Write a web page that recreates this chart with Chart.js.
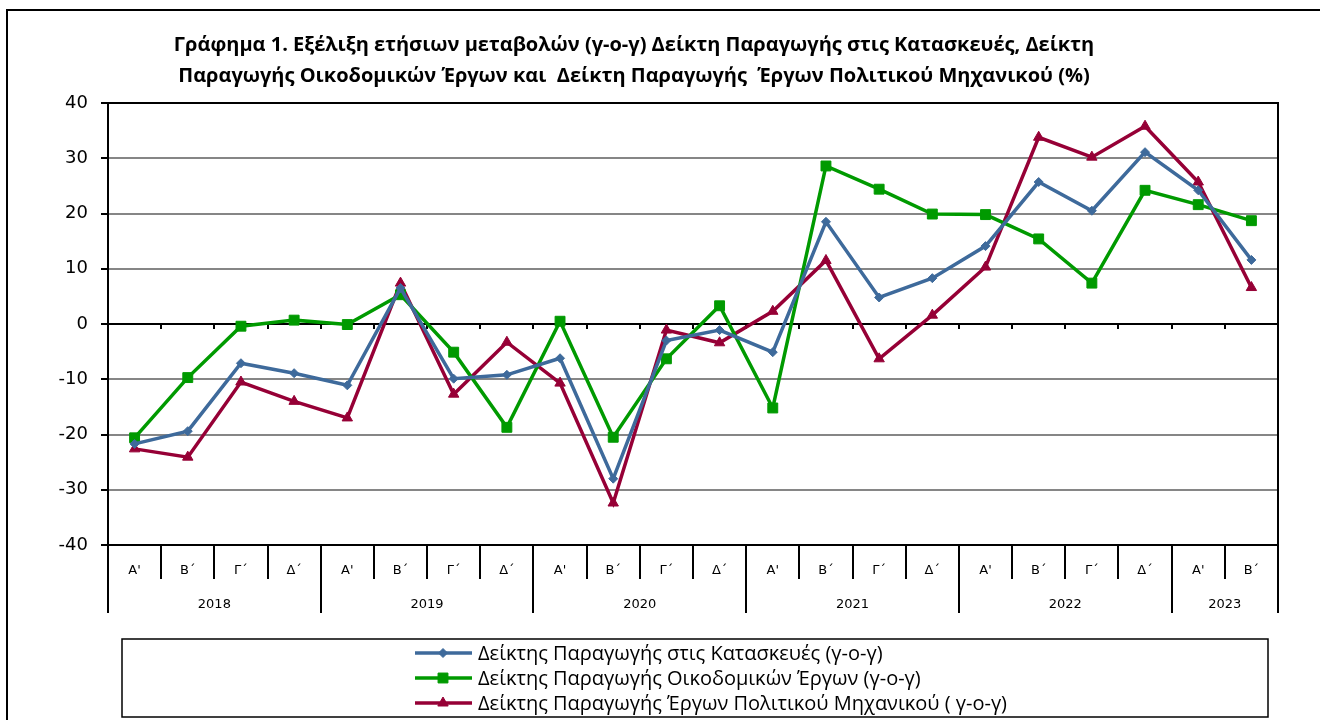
<!DOCTYPE html>
<html>
<head>
<meta charset="utf-8">
<script src="https://cdn.jsdelivr.net/npm/chart.js@4"></script>
<style>
  body { margin: 0; background: #fff; }
  canvas { display: block; }
</style>
</head>
<body>
<canvas id="chart" width="1320" height="720"></canvas>
<script>
// quarters and years of the category axis
const quarters = ["Α'", "Β΄", "Γ΄", "Δ΄", "Α'", "Β΄", "Γ΄", "Δ΄", "Α'", "Β΄", "Γ΄", "Δ΄",
                  "Α'", "Β΄", "Γ΄", "Δ΄", "Α'", "Β΄", "Γ΄", "Δ΄", "Α'", "Β΄"];
const years = ['2018', '2019', '2020', '2021', '2022', '2023'];
const quartersPerYear = [4, 4, 4, 4, 4, 2];
const yTicks = [-40, -30, -20, -10, 0, 10, 20, 30, 40];

// y-o-y changes (%)
const construction = [-21.7, -19.4, -7.1, -8.9, -11.1, 6.5, -9.9, -9.2, -6.2, -28.0, -3.0,
                      -1.1, -5.1, 18.5, 4.8, 8.3, 14.1, 25.7, 20.5, 31.1, 24.2, 11.6];
const buildings = [-20.6, -9.7, -0.4, 0.7, -0.1, 5.3, -5.1, -18.7, 0.5, -20.5, -6.3,
                   3.3, -15.2, 28.6, 24.4, 19.9, 19.8, 15.4, 7.4, 24.2, 21.6, 18.7];
const civil = [-22.6, -24.1, -10.5, -14.0, -17.0, 7.4, -12.7, -3.3, -10.7, -32.4, -1.1,
               -3.4, 2.3, 11.5, -6.3, 1.6, 10.3, 33.8, 30.2, 35.8, 25.7, 6.6];

const seriesNames = [
  'Δείκτης Παραγωγής στις Κατασκευές (γ-ο-γ)',
  'Δείκτης Παραγωγής Οικοδομικών Έργων (γ-ο-γ)',
  'Δείκτης Παραγωγής Έργων Πολιτικού Μηχανικού ( γ-ο-γ)'
];
const titleLines = [
  'Γράφημα 1. Εξέλιξη ετήσιων μεταβολών (γ-ο-γ) Δείκτη Παραγωγής στις Κατασκευές, Δείκτη',
  'Παραγωγής Οικοδομικών Έργων και  Δείκτη Παραγωγής  Έργων Πολιτικού Μηχανικού (%)'
];

const BLUE = '#3E6A9B';
const GREEN = '#009A00';
const RED = '#960036';

// frame, title, zero line, two-level category table and legend box
const decorations = {
  id: 'decorations',
  beforeDatasetsDraw(chart) {
    const ctx = chart.ctx;
    const area = chart.chartArea;
    const x = chart.scales.x;
    const y = chart.scales.y;
    ctx.save();
    // zero line with small ticks
    const yz = Math.round(y.getPixelForValue(0));
    ctx.strokeStyle = '#000';
    ctx.lineWidth = 2;
    ctx.beginPath();
    ctx.moveTo(area.left, yz);
    ctx.lineTo(area.right, yz);
    for (let k = 1; k < quarters.length; k++) {
      const xb = Math.round(x.getPixelForValue(k - 0.5));
      ctx.moveTo(xb, yz);
      ctx.lineTo(xb, yz + 5);
    }
    ctx.stroke();
    ctx.restore();
  },
  afterDraw(chart) {
    const ctx = chart.ctx;
    const area = chart.chartArea;
    const x = chart.scales.x;
    ctx.save();

    // outer frame (cropped)
    ctx.strokeStyle = '#000';
    ctx.lineWidth = 2;
    ctx.beginPath();
    ctx.moveTo(7, 730);
    ctx.lineTo(7, 10);
    ctx.lineTo(1325, 10);
    ctx.stroke();

    // plot border
    ctx.strokeRect(area.left, Math.round(area.top), area.right - area.left, Math.round(area.bottom - area.top));

    // title
    ctx.fillStyle = '#000';
    ctx.font = 'bold 20px "Liberation Sans Narrow", "Open Sans"';
    ctx.textAlign = 'center';
    ctx.textBaseline = 'middle';
    ctx.fillText(titleLines[0], 634, 45, 943);
    ctx.fillText(titleLines[1], 634, 76, 928);

    // category table below the plot
    const y0 = Math.round(area.bottom);
    ctx.lineWidth = 2;
    ctx.beginPath();
    let yearStarts = [0];
    quartersPerYear.forEach(n => yearStarts.push(yearStarts[yearStarts.length - 1] + n));
    for (let k = 0; k <= quarters.length; k++) {
      const xb = Math.round(x.getPixelForValue(k - 0.5));
      const isYear = yearStarts.includes(k);
      ctx.moveTo(xb, y0);
      ctx.lineTo(xb, y0 + (isYear ? 68 : 34));
    }
    ctx.stroke();
    ctx.font = '13px "DejaVu Sans"';
    quarters.forEach((q, i) => {
      ctx.fillText(q, x.getPixelForValue(i), y0 + 26);
    });
    years.forEach((yr, j) => {
      const a = x.getPixelForValue(yearStarts[j] - 0.5);
      const b = x.getPixelForValue(yearStarts[j + 1] - 0.5);
      ctx.fillText(yr, (a + b) / 2, y0 + 60);
    });

    // legend
    ctx.lineWidth = 1.5;
    ctx.strokeRect(122, 639, 1146, 78);
    ctx.textAlign = 'left';
    ctx.font = '20px "Liberation Sans Narrow", "Open Sans"';
    chart.data.datasets.forEach((ds, i) => {
      const ly = 653 + i * 25;
      ctx.strokeStyle = ds.borderColor;
      ctx.fillStyle = ds.borderColor;
      ctx.lineWidth = 3.5;
      ctx.beginPath();
      ctx.moveTo(415, ly);
      ctx.lineTo(472, ly);
      ctx.stroke();
      ctx.lineWidth = 1;
      Chart.helpers.drawPoint(ctx, { pointStyle: ds.pointStyle, rotation: 0, borderWidth: 1, radius: ds.pointRadius }, 443, ly);
      ctx.fillStyle = '#000';
      ctx.fillText(ds.label, 478, ly + 1);
    });
    ctx.restore();
  }
};

function series(label, data, color, style, radius) {
  return {
    label: label,
    data: data,
    borderColor: color,
    backgroundColor: color,
    borderWidth: 3.5,
    tension: 0,
    pointStyle: style,
    pointRadius: radius,
    pointBorderWidth: 1,
    pointBackgroundColor: color,
    pointBorderColor: color
  };
}

new Chart(document.getElementById('chart'), {
  type: 'line',
  data: {
    labels: quarters,
    datasets: [
      series(seriesNames[0], construction, BLUE, 'rectRot', 4.5),
      series(seriesNames[1], buildings, GREEN, 'rect', 7),
      series(seriesNames[2], civil, RED, 'triangle', 6)
    ]
  },
  options: {
    responsive: false,
    animation: false,
    layout: { padding: { top: 103, left: 48, right: 42, bottom: 175 } },
    plugins: {
      legend: { display: false },
      title: { display: false },
      tooltip: { enabled: false }
    },
    scales: {
      x: {
        type: 'category',
        offset: true,
        display: false
      },
      y: {
        min: -40,
        max: 40,
        afterFit: s => { s.width = 60; },
        afterBuildTicks: s => { s.ticks = yTicks.map(v => ({ value: v })); },
        border: { color: '#000', width: 2 },
        grid: {
          color: c => (c.tick && (c.tick.value === 40 || c.tick.value === -40 || c.tick.value === 0)) ? '#000' : '#868686',
          lineWidth: 2,
          tickLength: 7,
          tickColor: '#000',
          drawTicks: true
        },
        ticks: {
          padding: 13,
          color: '#000',
          font: { family: 'DejaVu Sans', size: 18 }
        }
      }
    }
  },
  plugins: [decorations]
});
</script>
</body>
</html>
